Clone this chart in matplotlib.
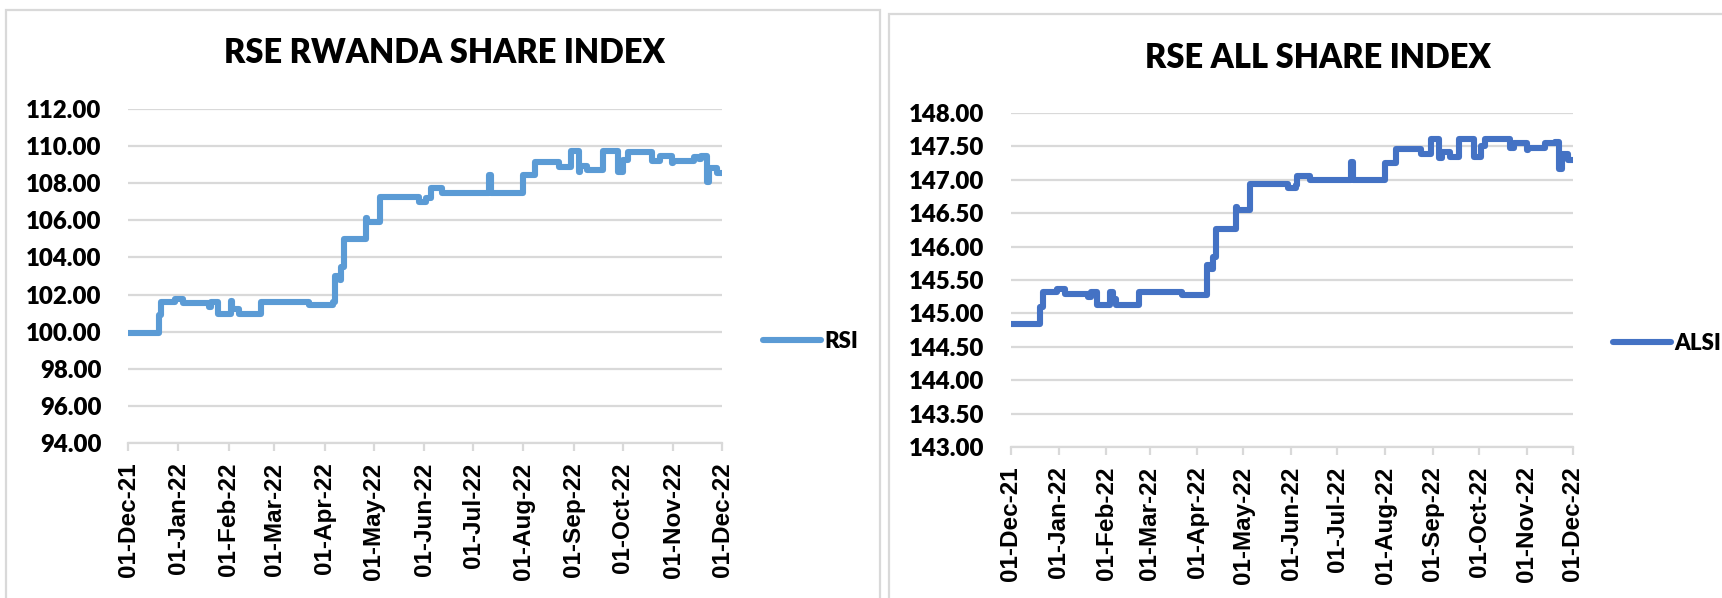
import matplotlib
matplotlib.use("Agg")
from matplotlib import pyplot as plt
import matplotlib.dates as mdates
import pandas as pd

# step points (date the level starts, index level)
rsi_dates = [
    "2021-12-01", "2021-12-20", "2021-12-21", "2021-12-30", "2022-01-04",
    "2022-01-20", "2022-01-21", "2022-01-25", "2022-02-02", "2022-02-03",
    "2022-02-07", "2022-02-21", "2022-03-22", "2022-04-06", "2022-04-07",
    "2022-04-10", "2022-04-11", "2022-04-13", "2022-04-26", "2022-04-27",
    "2022-05-05", "2022-05-29", "2022-06-02", "2022-06-05", "2022-06-12",
    "2022-07-11", "2022-07-12", "2022-08-01", "2022-08-08", "2022-08-23",
    "2022-08-30", "2022-09-04", "2022-09-05", "2022-09-09", "2022-09-19",
    "2022-09-28", "2022-10-01", "2022-10-04", "2022-10-19", "2022-10-24",
    "2022-10-31", "2022-11-01", "2022-11-14", "2022-11-17", "2022-11-18",
    "2022-11-22", "2022-11-23", "2022-11-28", "2022-12-01",
]
rsi_values = [
    99.95, 100.90, 101.60, 101.78, 101.55,
    101.35, 101.60, 100.97, 101.64, 101.24,
    100.97, 101.60, 101.42, 101.60, 103.00,
    102.80, 103.50, 104.97, 106.10, 105.93,
    107.28, 107.00, 107.20, 107.73, 107.46,
    108.45, 107.46, 108.45, 109.17, 108.86,
    109.71, 108.63, 108.94, 108.72, 109.71,
    108.63, 109.26, 109.68, 109.20, 109.48,
    109.08, 109.22, 109.44, 109.30, 109.48,
    108.04, 108.81, 108.54, 108.54,
]

alsi_dates = [
    "2021-12-01", "2021-12-20", "2021-12-22", "2021-12-31", "2022-01-05",
    "2022-01-20", "2022-01-22", "2022-01-26", "2022-02-03", "2022-02-05",
    "2022-02-07", "2022-02-22", "2022-03-22", "2022-04-07", "2022-04-10",
    "2022-04-11", "2022-04-13", "2022-04-26", "2022-04-27", "2022-05-05",
    "2022-05-30", "2022-06-04", "2022-06-05", "2022-06-13", "2022-07-10",
    "2022-07-11", "2022-08-01", "2022-08-08", "2022-08-24", "2022-08-31",
    "2022-09-05", "2022-09-07", "2022-09-12", "2022-09-18", "2022-09-28",
    "2022-10-02", "2022-10-05", "2022-10-21", "2022-10-24", "2022-11-01",
    "2022-11-02", "2022-11-13", "2022-11-19", "2022-11-22", "2022-11-24",
    "2022-11-28", "2022-12-01",
]
alsi_values = [
    144.84, 145.09, 145.32, 145.37, 145.29,
    145.25, 145.32, 145.12, 145.32, 145.22,
    145.12, 145.32, 145.27, 145.72, 145.67,
    145.84, 146.27, 146.60, 146.55, 146.94,
    146.87, 146.92, 147.06, 147.00, 147.26,
    147.00, 147.25, 147.46, 147.39, 147.61,
    147.32, 147.41, 147.34, 147.61, 147.34,
    147.50, 147.61, 147.47, 147.55, 147.44,
    147.47, 147.55, 147.56, 147.16, 147.39,
    147.30, 147.30,
]

W, H = 1722, 598
GRID = "#d9d9d9"
fig = plt.figure(figsize=(W / 100, H / 100), dpi=100)


def px_axes(left, top, right, bottom):
    return fig.add_axes([left / W, 1 - bottom / H,
                         (right - left) / W, (bottom - top) / H])


def panel(x0, y0, x1):
    # light grey chart-area frame, bottom edge runs off the image
    fig.add_artist(plt.Rectangle((x0 / W, -0.05), (x1 - x0) / W,
                                 1.05 - y0 / H, transform=fig.transFigure,
                                 fill=False, ec=GRID, lw=1.6))


def draw_chart(ax, dates, values, color, label, ymin, ymax, ystep, title,
               title_xy, legend_xy):
    x = pd.to_datetime(dates)
    ax.plot(x, values, drawstyle="steps-post", color=color, lw=4.4,
            solid_joinstyle="round", solid_capstyle="round", label=label)

    ax.set_xlim(pd.Timestamp("2021-12-01"), pd.Timestamp("2022-12-01"))
    ax.set_ylim(ymin, ymax)
    n = int(round((ymax - ymin) / ystep))
    ax.set_yticks([ymin + i * ystep for i in range(n + 1)])
    ax.yaxis.set_major_formatter(plt.FormatStrFormatter("%.2f"))

    ax.xaxis.set_major_locator(mdates.MonthLocator(bymonthday=1))
    ax.xaxis.set_major_formatter(mdates.DateFormatter("%d-%b-%y"))

    for side in ["top", "right", "left"]:
        ax.spines[side].set_visible(False)
    ax.spines["bottom"].set_color(GRID)
    ax.spines["bottom"].set_linewidth(1.6)
    ax.yaxis.grid(True, color=GRID, lw=1.6)
    ax.set_axisbelow(True)

    ax.tick_params(axis="y", length=0, pad=19)
    ax.tick_params(axis="x", length=6, width=1.6, color=GRID, pad=8,
                   rotation=90)
    for t in ax.get_yticklabels():
        t.set_fontfamily("Lato")
        t.set_fontweight("heavy")
        t.set_fontsize(17.3)
    for t in ax.get_xticklabels():
        t.set_fontfamily("Liberation Sans")
        t.set_fontweight("bold")
        t.set_fontsize(17.5)

    fig.text(title_xy[0] / W, 1 - title_xy[1] / H, title, ha="center",
             va="center", fontsize=23.5, fontweight="heavy", family="Lato")

    ax.legend(loc="center left", frameon=False,
              bbox_to_anchor=(legend_xy[0] / W, 1 - legend_xy[1] / H),
              bbox_transform=fig.transFigure, borderpad=0, borderaxespad=0,
              handlelength=2.6, handletextpad=0.15,
              prop={"family": "Lato", "weight": "heavy", "size": 16})


panel(6, 10, 880)
panel(889, 14, 1800)

ax1 = px_axes(128, 109, 722, 443)
draw_chart(ax1, rsi_dates, rsi_values, "#5b9bd5", "RSI", 94, 112, 2,
           "RSE RWANDA SHARE INDEX", (445, 53), (763, 341))

ax2 = px_axes(1011, 113, 1573, 447)
draw_chart(ax2, alsi_dates, alsi_values, "#4472c4", "ALSI", 143, 148, 0.5,
           "RSE ALL SHARE INDEX", (1318, 58), (1613, 343))

plt.savefig("out.png", dpi=100)
